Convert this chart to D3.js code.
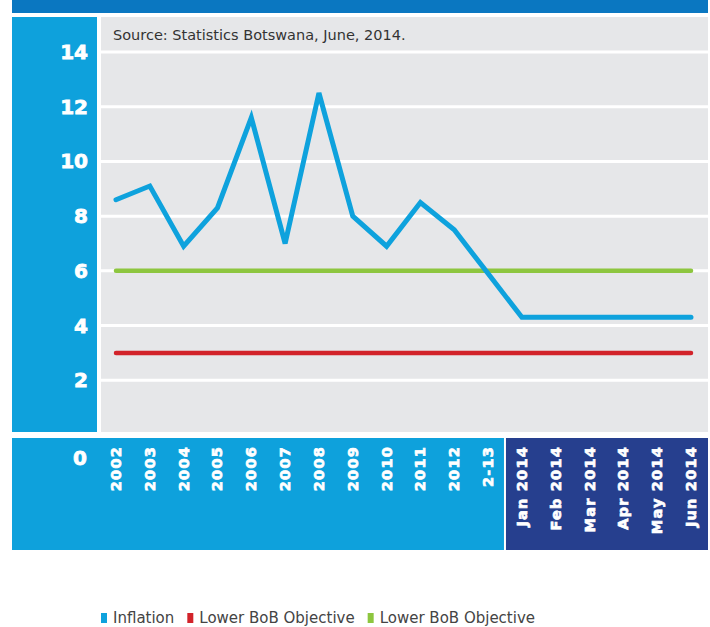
<!DOCTYPE html>
<html>
<head>
<meta charset="utf-8">
<script src="https://cdn.jsdelivr.net/npm/d3@7/dist/d3.min.js"></script>
<style>
  html, body { margin: 0; padding: 0; background: #ffffff; }
  svg { display: block; }
</style>
</head>
<body>
<div id="chart"></div>
<script>
// Inflation in Botswana, annual figures then monthly 2014, against the
// lower and upper bounds of the Bank of Botswana objective range.
const categories = ["2002", "2003", "2004", "2005", "2006", "2007", "2008", "2009",
  "2010", "2011", "2012", "2-13", "Jan 2014", "Feb 2014", "Mar 2014", "Apr 2014",
  "May 2014", "Jun 2014"];
const inflation = [8.6, 9.1, 6.9, 8.3, 11.6, 7.0, 12.5, 8.0, 6.9, 8.5, 7.5, 5.9,
  4.3, 4.3, 4.3, 4.3, 4.3, 4.3];
const lowerObjective = 3;
const upperObjective = 6;
const yTicks = [0, 2, 4, 6, 8, 10, 12, 14];
const monthlyStart = "Jan 2014";
const sourceNote = "Source: Statistics Botswana, June, 2014.";
const legendItems = [
  { label: "Inflation", color: "#0ea2dd" },
  { label: "Lower BoB Objective", color: "#d2232a" },
  { label: "Lower BoB Objective", color: "#8dc63f" }
];

const W = 710, H = 627;
const svg = d3.select("#chart").append("svg").attr("width", W).attr("height", H);

const plot = { left: 101, right: 708, top: 17, bottom: 432 };
const panel = { left: 12, right: 97 };
const band = { top: 438, bottom: 550 };
const textFont = "'DejaVu Sans', sans-serif";

const x = d3.scalePoint().domain(categories).range([116, 691]);
const y = d3.scaleLinear().domain([0, 14]).range([435, 52]);

// top strip
svg.append("rect").attr("x", 12).attr("y", 0).attr("width", 696).attr("height", 13)
  .attr("fill", "#0a77c1");

// left axis panel
svg.append("rect").attr("x", panel.left).attr("y", plot.top)
  .attr("width", panel.right - panel.left).attr("height", plot.bottom - plot.top)
  .attr("fill", "#0ea1dc");

// plotting area
svg.append("rect").attr("x", plot.left).attr("y", plot.top)
  .attr("width", plot.right - plot.left).attr("height", plot.bottom - plot.top)
  .attr("fill", "#e6e7e9");

// gridlines
svg.append("g").selectAll("line").data(yTicks.filter(d => d > 0)).join("line")
  .attr("x1", plot.left).attr("x2", plot.right)
  .attr("y1", d => y(d)).attr("y2", d => y(d))
  .attr("stroke", "#ffffff").attr("stroke-width", 3);

// source note
svg.append("text").attr("x", 113).attr("y", 35)
  .attr("dominant-baseline", "central")
  .attr("font-family", textFont)
  .attr("font-size", 14.5).attr("fill", "#333333")
  .text(sourceNote);

// category band under the plot: annual part and monthly part
const split = (x("2-13") + x(monthlyStart)) / 2;
svg.append("rect").attr("x", 12).attr("y", band.top)
  .attr("width", split - 1 - 12).attr("height", band.bottom - band.top)
  .attr("fill", "#0ea1dc");
svg.append("rect").attr("x", split + 1).attr("y", band.top)
  .attr("width", plot.right - split - 1).attr("height", band.bottom - band.top)
  .attr("fill", "#263f8e");

// y tick labels
svg.append("g").selectAll("text").data(yTicks).join("text")
  .attr("x", 88)
  .attr("y", d => d === 0 ? band.top + 20 : y(d))
  .attr("text-anchor", d => d === 0 ? "middle" : "end")
  .attr("dx", d => d === 0 ? -8 : 0)
  .attr("dominant-baseline", "central")
  .attr("font-family", textFont)
  .attr("font-weight", "bold")
  .attr("font-size", 20)
  .attr("fill", "#ffffff")
  .attr("stroke", "#ffffff").attr("stroke-width", 0.8)
  .text(d => d);

// x category labels, rotated
svg.append("g").selectAll("text").data(categories).join("text")
  .attr("transform", d => `translate(${x(d)},${band.top + 8}) rotate(-90)`)
  .attr("text-anchor", "end")
  .attr("dominant-baseline", "central")
  .attr("font-family", textFont)
  .attr("font-weight", "bold")
  .attr("font-size", 14.5)
  .attr("letter-spacing", 1.2)
  .attr("fill", "#ffffff")
  .attr("stroke", "#ffffff").attr("stroke-width", 0.7)
  .text(d => d);

// objective bounds
const flat = v => categories.map(c => ({ c, v }));
const line = d3.line().x(d => x(d.c)).y(d => y(d.v));
svg.append("path").datum(flat(upperObjective)).attr("d", line)
  .attr("fill", "none").attr("stroke", "#8dc63f").attr("stroke-width", 4.5)
  .attr("stroke-linecap", "round");
svg.append("path").datum(flat(lowerObjective)).attr("d", line)
  .attr("fill", "none").attr("stroke", "#d2232a").attr("stroke-width", 4.5)
  .attr("stroke-linecap", "round");

// inflation series
svg.append("path").datum(categories.map((c, i) => ({ c, v: inflation[i] })))
  .attr("d", line)
  .attr("fill", "none").attr("stroke", "#0ea2dd").attr("stroke-width", 5)
  .attr("stroke-linecap", "round").attr("stroke-linejoin", "miter");

// legend
const legend = svg.append("g").attr("transform", "translate(101,618)");
let lx = 0;
legendItems.forEach(item => {
  const g = legend.append("g").attr("transform", `translate(${lx},0)`);
  g.append("rect").attr("x", 0).attr("y", -5).attr("width", 6).attr("height", 10)
    .attr("fill", item.color);
  const t = g.append("text").attr("x", 12).attr("y", 0)
    .attr("dominant-baseline", "central")
    .attr("font-family", textFont)
    .attr("font-size", 15).attr("fill", "#444444")
    .text(item.label);
  lx += 12 + t.node().getComputedTextLength() + 13;
});
</script>
</body>
</html>
